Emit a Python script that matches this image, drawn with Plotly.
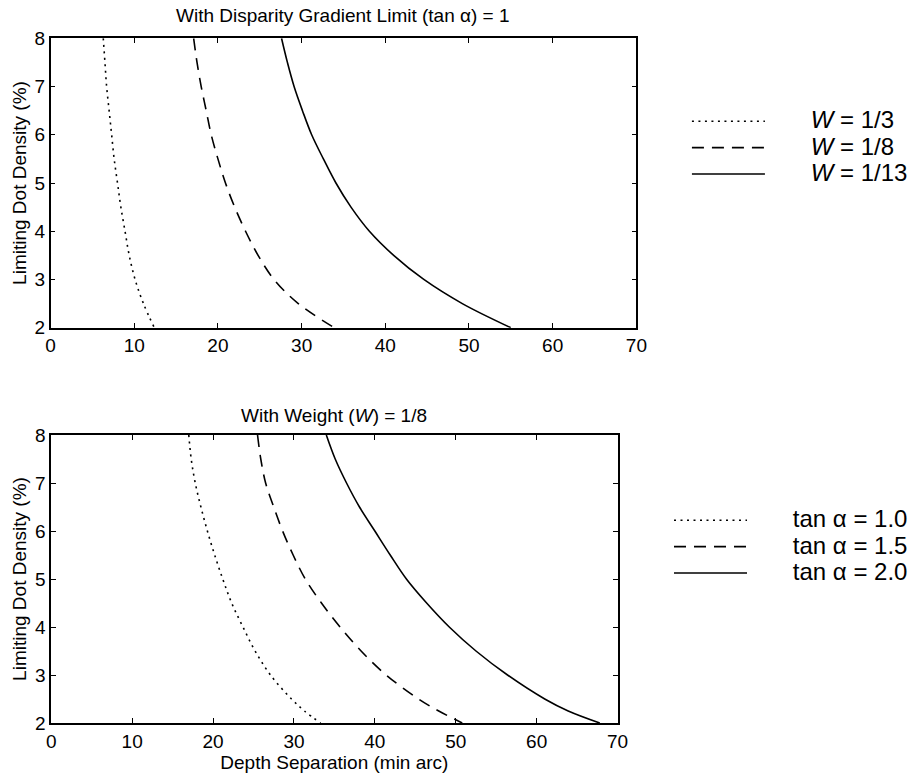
import plotly.graph_objects as go

# ---------------- data ----------------
# Top panel: With Disparity Gradient Limit (tan a) = 1
top_density = [8, 7.5, 7, 6.5, 6, 5.5, 5, 4.5, 4, 3.5, 3, 2.5, 2]
top_w3_sep = [6.3, 6.5, 6.7, 7.0, 7.3, 7.6, 8.0, 8.4, 8.9, 9.4, 10.1, 11.1, 12.4]
top_w8_sep = [17.1, 17.5, 18.0, 18.6, 19.2, 20.0, 20.9, 22.0, 23.3, 24.8, 26.7, 29.6, 33.9]
top_w13_sep = [27.6, 28.3, 29.1, 30.1, 31.2, 32.6, 34.1, 35.9, 38.1, 41.0, 44.6, 49.2, 55.0]
top_names = ["<i>W</i> = 1/3", "<i>W</i> = 1/8", "<i>W</i> = 1/13"]

# Bottom panel: With Weight (W) = 1/8
bot_density = [8, 7.5, 7, 6.5, 6, 5.5, 5, 4.5, 4, 3.5, 3, 2.5, 2.25, 2]
bot_t10_sep = [17.0, 17.3, 17.8, 18.5, 19.3, 20.2, 21.2, 22.3, 23.7, 25.2, 27.1, 29.7, 31.3, 33.3]
bot_t15_sep = [25.5, 25.9, 26.5, 27.5, 28.6, 29.9, 31.4, 33.4, 35.7, 38.3, 41.4, 45.4, 47.9, 50.8]
bot_t20_sep = [34.0, 35.1, 36.5, 38.1, 40.0, 41.9, 43.9, 46.4, 49.2, 52.5, 56.4, 61.0, 63.9, 67.8]
bot_names = ["tan \u03b1 = 1.0", "tan \u03b1 = 1.5", "tan \u03b1 = 2.0"]

x_ticks = [0, 10, 20, 30, 40, 50, 60, 70]
y_ticks = [2, 3, 4, 5, 6, 7, 8]

# ---------------- styling ----------------
W, H = 913, 778
FONT = "Liberation Sans, Arial, Helvetica, sans-serif"
dashes = ["2px,4.5px", "12px,8px", "solid"]
pad = "\u2003\u2002\u2009"

fig = go.Figure()

for xs, name, d in zip([top_w3_sep, top_w8_sep, top_w13_sep], top_names, dashes):
    fig.add_trace(go.Scatter(
        x=xs, y=top_density, mode="lines", line_shape="spline",
        line=dict(color="black", width=1.6, dash=d),
        name=f'<span style="font-size:24px">{pad}{name}</span>',
        xaxis="x", yaxis="y", legend="legend"))

for xs, name, d in zip([bot_t10_sep, bot_t15_sep, bot_t20_sep], bot_names, dashes):
    fig.add_trace(go.Scatter(
        x=xs, y=bot_density, mode="lines", line_shape="spline",
        line=dict(color="black", width=1.6, dash=d),
        name=f'<span style="font-size:24px">{pad}{name}</span>',
        xaxis="x2", yaxis="y2", legend="legend2"))

axis_common = dict(
    showline=True, mirror="ticks", linecolor="black", linewidth=1.5,
    ticks="inside", ticklen=5, tickwidth=1.2, tickcolor="black",
    showgrid=False, zeroline=False, automargin=False,
    tickfont=dict(family=FONT, size=19, color="black"),
)

def px_x(p):
    return p / W

def px_y(p):
    return 1 - p / H

fig.update_layout(
    template="none",
    width=W, height=H,
    margin=dict(l=0, r=0, t=0, b=0, pad=0),
    paper_bgcolor="white", plot_bgcolor="white",
    font=dict(family=FONT, color="black", size=19),
    showlegend=True,
    xaxis=dict(axis_common, domain=[px_x(51), px_x(642)], range=[0, 70],
               tickvals=x_ticks, anchor="y"),
    yaxis=dict(axis_common, domain=[px_y(327.7), px_y(38.3)], range=[2, 8],
               tickvals=y_ticks, anchor="x",
               title=dict(text="Limiting Dot Density (%)", standoff=3,
                          font=dict(size=19))),
    xaxis2=dict(axis_common, domain=[px_x(51.7), px_x(623)], range=[0, 70],
                tickvals=x_ticks, anchor="y2",
                title=dict(text="Depth Separation (min arc)", standoff=3,
                           font=dict(size=19))),
    yaxis2=dict(axis_common, domain=[px_y(723), px_y(435)], range=[2, 8],
                tickvals=y_ticks, anchor="x2",
                title=dict(text="Limiting Dot Density (%)", standoff=3,
                           font=dict(size=19))),
    legend=dict(x=px_x(693), y=px_y(103), xanchor="left", yanchor="top",
                font=dict(family=FONT, size=18, color="black"),
                itemwidth=73, bgcolor="rgba(0,0,0,0)", tracegroupgap=0),
    legend2=dict(x=px_x(675), y=px_y(502), xanchor="left", yanchor="top",
                 font=dict(family=FONT, size=18, color="black"),
                 itemwidth=73, bgcolor="rgba(0,0,0,0)", tracegroupgap=0),
    annotations=[
        dict(text="With Disparity Gradient Limit (tan \u03b1) = 1",
             x=(px_x(51) + px_x(642)) / 2, y=px_y(15), xref="paper", yref="paper",
             xanchor="center", yanchor="middle", showarrow=False,
             font=dict(family=FONT, size=19, color="black")),
        dict(text="With Weight (<i>W</i>) = 1/8",
             x=(px_x(51.7) + px_x(623)) / 2, y=px_y(415), xref="paper", yref="paper",
             xanchor="center", yanchor="middle", showarrow=False,
             font=dict(family=FONT, size=19, color="black")),
    ],
)

fig.write_html("out.html", config={"displayModeBar": False},
               post_script="document.body.style.margin='0';")
